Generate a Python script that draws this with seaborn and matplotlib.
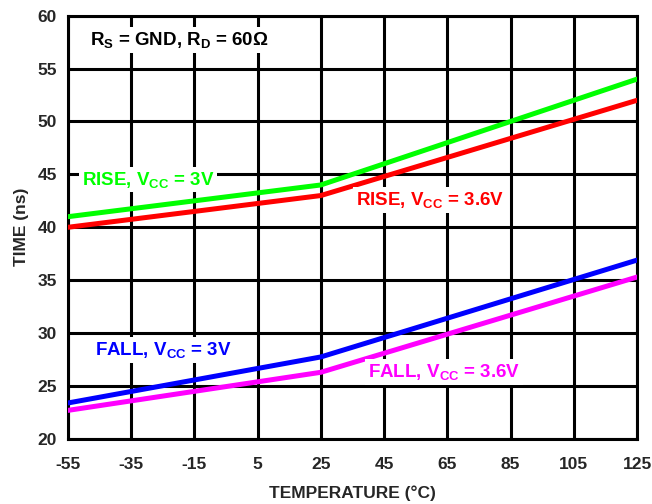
import pandas as pd
import matplotlib.pyplot as plt
import seaborn as sns

# temperature (°C) breakpoints
temperature = [-55, 25, 125]

# switching times (ns)
rise_3v = [41.0, 44.0, 54.0]
rise_36v = [40.0, 43.0, 52.0]
fall_3v = [23.4, 27.75, 36.9]
fall_36v = [22.7, 26.3, 35.3]

series_names = ["RISE 3V", "RISE 3.6V", "FALL 3V", "FALL 3.6V"]
series_colors = ["#00FF00", "#FF0000", "#0000FF", "#FF00FF"]

x_ticks = [-55, -35, -15, 5, 25, 45, 65, 85, 105, 125]
y_ticks = [20, 25, 30, 35, 40, 45, 50, 55, 60]


def setup_plot_style():
    sns.set_theme(style="white")
    plt.rcParams['font.family'] = ['Liberation Sans', 'DejaVu Sans']
    plt.rcParams['font.weight'] = 'bold'
    plt.rcParams['axes.unicode_minus'] = False
    plt.rcParams['mathtext.fontset'] = 'custom'
    plt.rcParams['mathtext.rm'] = 'Liberation Sans:bold'
    plt.rcParams['mathtext.bf'] = 'Liberation Sans:bold'
    plt.rcParams['mathtext.default'] = 'rm'


setup_plot_style()

df = pd.DataFrame({
    "temp": temperature * 4,
    "time": rise_3v + rise_36v + fall_3v + fall_36v,
    "series": [s for s in series_names for _ in temperature],
})

fig = plt.figure(figsize=(6.52, 5.04), dpi=100)
ax = fig.add_axes([0.104, 0.129, 0.873, 0.840])

ax.grid(True, color="black", linewidth=2.2)
ax.set_axisbelow(True)

sns.lineplot(data=df, x="temp", y="time", hue="series", hue_order=series_names,
             palette=series_colors, linewidth=3.6, legend=False, ax=ax, zorder=3)

ax.set_xlim(-55, 125)
ax.set_ylim(20, 60)
ax.set_xticks(x_ticks)
ax.set_yticks(y_ticks)
ax.tick_params(axis='x', length=0, labelsize=12.5, pad=13)
ax.tick_params(axis='y', length=0, labelsize=12.5, pad=8)
for lbl in ax.get_xticklabels() + ax.get_yticklabels():
    lbl.set_fontweight('bold')
for sp in ax.spines.values():
    sp.set_color("black")
    sp.set_linewidth(2.2)

ax.set_xlabel("TEMPERATURE (°C)", fontsize=12.5, fontweight='bold', labelpad=10)
ax.set_ylabel("TIME (ns)", fontsize=12.5, fontweight='bold', labelpad=6)

fs = 13.5
box = dict(facecolor="white", edgecolor="none", pad=2)
ax.text(-48, 57.7, r"R$_\mathrm{S}$ = GND, R$_\mathrm{D}$ = 60Ω", fontsize=fs,
        fontweight='bold', color="black", va="center", ha="left", bbox=box, zorder=5)
ax.text(-50.5, 44.5, r"RISE, V$_\mathrm{CC}$ = 3V", fontsize=fs, fontweight='bold',
        color="#00FF00", va="center", ha="left", bbox=box, zorder=5)
ax.text(36, 42.6, r"RISE, V$_\mathrm{CC}$ = 3.6V", fontsize=fs, fontweight='bold',
        color="#FF0000", va="center", ha="left", bbox=box, zorder=5)
ax.text(-46.5, 28.4, r"FALL, V$_\mathrm{CC}$ = 3V", fontsize=fs, fontweight='bold',
        color="#0000FF", va="center", ha="left", bbox=box, zorder=5)
ax.text(40, 26.3, r"FALL, V$_\mathrm{CC}$ = 3.6V", fontsize=fs, fontweight='bold',
        color="#FF00FF", va="center", ha="left", bbox=box, zorder=5)

fig.savefig("out.png", dpi=100)
